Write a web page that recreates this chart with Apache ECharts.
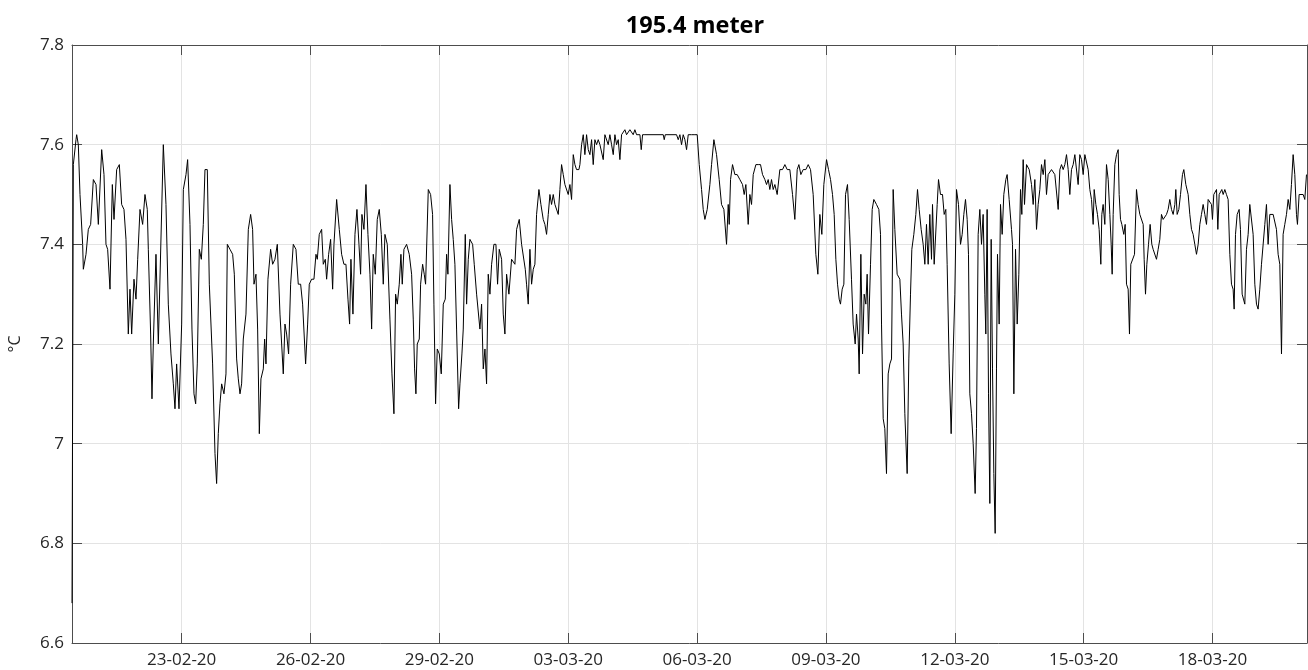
<!DOCTYPE html>
<html>
<head>
<meta charset="utf-8">
<script src="https://cdn.jsdelivr.net/npm/echarts@6/dist/echarts.min.js"></script>
<style>
html,body{margin:0;padding:0;background:#fff;}
#chart{width:1308px;height:670px;}
</style>
</head>
<body>
<div id="chart"></div>
<script>
// time in days since 2020-02-20 00:00
const days = [
0.447,0.478,0.540,0.556,0.594,0.633,0.695,0.711,0.773,0.827,0.881,0.944,1.006,1.060,1.138,1.192,1.238,1.277,1.332,1.386,1.425,1.487,1.549,1.603,1.657,1.704,1.758,1.797,1.836,1.890,1.937,1.976,2.030,2.092,2.146,2.200,2.224,2.278,2.309,2.340,2.402,2.457,2.573,2.635,2.689,2.751,2.806,2.845,2.883,2.938,3.000,3.039,3.101,3.139,3.194,3.240,3.287,3.326,3.364,3.411,3.458,3.504,3.543,3.597,3.644,3.721,3.776,3.814,3.853,3.892,3.931,3.985,4.032,4.063,4.125,4.187,4.226,4.280,4.319,4.358,4.396,4.435,4.497,4.552,4.606,4.652,4.684,4.730,4.769,4.808,4.846,4.901,4.932,4.963,5.009,5.071,5.118,5.172,5.227,5.289,5.328,5.366,5.405,5.444,5.490,5.537,5.599,5.661,5.715,5.770,5.816,5.886,5.933,5.971,6.026,6.080,6.127,6.158,6.204,6.259,6.297,6.344,6.375,6.422,6.468,6.515,6.546,6.608,6.670,6.724,6.778,6.825,6.872,6.910,6.941,6.988,7.035,7.081,7.128,7.166,7.197,7.244,7.291,7.337,7.384,7.423,7.461,7.508,7.554,7.601,7.648,7.694,7.733,7.787,7.849,
7.896,7.942,7.981,8.020,8.066,8.105,8.136,8.175,8.237,8.299,8.354,8.392,8.423,8.454,8.485,8.532,8.563,8.610,8.648,8.679,8.742,8.796,8.842,8.873,8.912,8.951,8.998,9.044,9.091,9.137,9.168,9.199,9.246,9.285,9.323,9.362,9.401,9.448,9.479,9.525,9.556,9.603,9.634,9.673,9.711,9.774,9.812,9.867,9.905,9.944,9.983,10.022,10.061,10.099,10.138,10.177,10.216,10.270,10.317,10.355,10.394,10.449,10.487,10.526,10.565,10.619,10.681,10.720,10.759,10.798,10.860,10.914,10.953,11.000,11.030,11.069,11.108,11.147,11.186,11.224,11.263,11.318,11.364,11.418,11.457,11.496,11.535,11.574,11.612,11.651,11.690,11.729,11.768,11.806,11.845,11.884,11.923,11.962,12.000,12.039,12.078,12.117,12.156,12.194,12.249,12.272,12.311,12.350,12.388,12.427,12.466,12.505,12.544,12.582,12.621,12.660,12.699,12.738,12.776,12.815,12.854,12.893,12.931,12.970,13.009,13.048,13.087,13.125,13.164,13.203,13.242,13.281,13.319,13.358,13.397,13.436,13.475,13.513,13.552,13.591,13.630,13.669,13.700,13.731,13.785,13.824,14.212,14.235,14.259,14.522,14.561,14.600,14.638,14.677,14.716,14.755,14.794,14.871,14.949,15.003,15.050,15.104,15.143,15.182,15.236,15.298,
15.337,15.391,15.453,15.515,15.569,15.624,15.686,15.725,15.748,15.779,15.825,15.880,15.934,15.996,16.058,16.097,16.136,16.190,16.229,16.268,16.307,16.369,16.423,16.477,16.524,16.578,16.617,16.656,16.694,16.733,16.772,16.811,16.865,16.927,16.989,17.044,17.098,17.160,17.222,17.276,17.331,17.370,17.416,17.470,17.532,17.587,17.641,17.703,17.765,17.812,17.858,17.905,17.951,18.014,18.060,18.107,18.153,18.192,18.231,18.270,18.308,18.339,18.378,18.417,18.456,18.502,18.541,18.595,18.634,18.681,18.712,18.751,18.774,18.813,18.852,18.890,18.929,18.960,18.991,19.038,19.077,19.115,19.177,19.232,19.271,19.294,19.333,19.371,19.410,19.449,19.488,19.527,19.565,19.604,19.658,19.721,19.759,19.798,19.837,19.891,19.930,19.969,20.000,20.046,20.093,20.132,20.171,20.217,20.264,20.303,20.341,20.380,20.419,20.458,20.481,20.520,20.559,20.590,20.621,20.667,20.714,20.753,20.791,20.822,20.869,20.915,20.962,21.001,21.040,21.086,21.133,21.172,21.210,21.249,21.288,21.319,21.350,21.389,21.428,21.474,21.505,21.544,21.583,21.622,21.660,21.699,21.722,21.753,21.785,21.816,21.847,21.878,21.909,21.940,21.971,21.994,22.033,22.064,22.103,22.141,22.188,22.219,22.266,22.320,
22.344,22.375,22.414,22.453,22.491,22.530,22.561,22.592,22.623,22.670,22.732,22.786,22.825,22.864,22.903,22.941,22.980,23.019,23.058,23.097,23.135,23.174,23.213,23.252,23.291,23.329,23.368,23.407,23.446,23.485,23.523,23.562,23.601,23.640,23.678,23.717,23.756,23.795,23.834,23.872,23.911,23.950,23.989,24.028,24.066,24.105,24.144,24.183,24.222,24.245,24.284,24.322,24.361,24.400,24.423,24.454,24.493,24.532,24.571,24.610,24.641,24.664,24.687,24.726,24.765,24.804,24.827,24.858,24.889,24.935,24.967,24.998,25.036,25.067,25.098,25.137,25.184,25.230,25.269,25.308,25.347,25.386,25.409,25.440,25.471,25.510,25.548,25.587,25.618,25.657,25.696,25.735,25.773,25.812,25.851,25.890,25.929,25.967,26.006,26.045,26.084,26.123,26.146,26.177,26.216,26.255,26.301,26.332,26.379,26.433,26.472,26.511,26.549,26.588,26.627,26.666,26.705,26.743,26.782,26.821,26.860,26.899,26.937,26.976,26.999,27.030,27.062,27.093,27.124,27.155,27.186,27.217,27.248,27.287,27.325,27.364,27.403,27.442,27.480,27.504,27.535,27.574,27.620,27.651,27.690,27.721,27.752,27.791,27.830,27.868,27.907,27.946,27.985,28.024,28.062,28.101,28.140,28.179,28.218,28.256,28.295,28.334,28.373,28.412,28.450,28.489,28.528,28.567,28.606,28.644,28.683,28.722,28.761,28.800,28.838,28.877,28.916,28.955,28.978,29.017,29.056,29.110,29.149,29.188
];
const temps = [
6.68,7.56,7.61,7.62,7.60,7.50,7.40,7.35,7.38,7.43,7.44,7.53,7.52,7.44,7.59,7.54,7.40,7.39,7.31,7.52,7.45,7.55,7.56,7.48,7.47,7.41,7.22,7.31,7.22,7.33,7.29,7.37,7.47,7.44,7.50,7.47,7.39,7.22,7.09,7.20,7.38,7.20,7.60,7.48,7.28,7.18,7.12,7.07,7.16,7.07,7.24,7.51,7.54,7.57,7.44,7.23,7.10,7.08,7.16,7.39,7.37,7.44,7.55,7.55,7.32,7.16,6.98,6.92,7.02,7.08,7.12,7.10,7.14,7.40,7.39,7.38,7.34,7.17,7.13,7.10,7.12,7.21,7.26,7.43,7.46,7.43,7.32,7.34,7.23,7.02,7.13,7.15,7.21,7.16,7.33,7.39,7.36,7.37,7.40,7.26,7.20,7.14,7.24,7.22,7.18,7.32,7.40,7.39,7.32,7.32,7.28,7.16,7.24,7.32,7.33,7.33,7.38,7.37,7.42,7.43,7.36,7.37,7.33,7.38,7.41,7.31,7.40,7.49,7.43,7.38,7.36,7.36,7.29,7.24,7.37,7.26,7.42,7.47,7.40,7.34,7.46,7.43,7.52,7.42,7.34,7.23,7.38,7.34,7.45,7.47,7.42,7.32,7.42,7.40,7.25,
7.14,7.06,7.30,7.28,7.32,7.38,7.32,7.39,7.40,7.38,7.34,7.25,7.15,7.10,7.20,7.21,7.32,7.36,7.34,7.32,7.51,7.50,7.46,7.28,7.08,7.19,7.18,7.14,7.28,7.29,7.38,7.34,7.52,7.45,7.41,7.36,7.23,7.07,7.12,7.18,7.23,7.42,7.28,7.37,7.41,7.40,7.36,7.30,7.30,7.23,7.28,7.15,7.19,7.12,7.34,7.30,7.36,7.40,7.40,7.32,7.39,7.37,7.26,7.22,7.34,7.30,7.37,7.37,7.36,7.43,7.45,7.40,7.40,7.35,7.32,7.28,7.39,7.32,7.35,7.36,7.46,7.51,7.48,7.45,7.44,7.42,7.46,7.50,7.48,7.50,7.48,7.48,7.46,7.51,7.56,7.54,7.52,7.52,7.50,7.52,7.49,7.58,7.56,7.55,7.55,7.56,7.60,7.62,7.58,7.62,7.59,7.58,7.61,7.56,7.61,7.60,7.61,7.60,7.60,7.57,7.62,7.62,7.60,7.62,7.60,7.58,7.62,7.60,7.61,7.57,7.62,7.62,7.63,7.62,7.62,7.63,7.63,7.62,7.63,7.62,7.62,7.62,7.59,7.62,7.62,7.62,7.62,7.61,7.62,7.62,7.61,7.62,7.60,7.62,7.61,7.59,7.62,7.62,7.62,7.62,7.56,7.51,7.47,7.45,7.47,7.52,
7.56,7.61,7.58,7.53,7.48,7.47,7.40,7.48,7.44,7.53,7.56,7.54,7.54,7.53,7.52,7.50,7.52,7.44,7.50,7.48,7.54,7.56,7.56,7.56,7.54,7.53,7.52,7.53,7.51,7.53,7.51,7.52,7.50,7.55,7.55,7.56,7.55,7.55,7.50,7.45,7.55,7.56,7.54,7.55,7.55,7.56,7.55,7.50,7.38,7.34,7.46,7.42,7.52,7.57,7.55,7.53,7.50,7.46,7.37,7.32,7.29,7.28,7.31,7.32,7.50,7.52,7.45,7.33,7.24,7.20,7.26,7.21,7.14,7.38,7.18,7.30,7.28,7.34,7.22,7.36,7.47,7.49,7.48,7.47,7.42,7.24,7.05,7.03,6.94,7.14,7.16,7.17,7.51,7.43,7.34,7.33,7.26,7.20,7.06,6.94,7.17,7.30,7.39,7.42,7.46,7.51,7.47,7.43,7.40,7.36,7.44,7.36,7.46,7.37,7.48,7.36,7.36,7.48,7.53,7.50,7.50,7.46,7.47,7.36,7.16,7.02,7.18,7.30,7.51,7.48,7.40,7.42,7.46,7.49,7.45,7.38,7.10,7.06,7.00,6.90,7.03,7.42,7.47,7.40,7.46,7.30,7.22,7.47,7.10,6.88,7.41,7.15,6.94,6.82,7.15,7.38,7.24,7.48,7.42,7.50,7.53,7.54,7.49,7.43,
7.40,7.10,7.39,7.24,7.34,7.51,7.46,7.57,7.48,7.56,7.55,7.52,7.48,7.53,7.43,7.48,7.51,7.56,7.54,7.57,7.50,7.54,7.54,7.55,7.55,7.54,7.54,7.47,7.55,7.56,7.55,7.56,7.58,7.55,7.50,7.55,7.56,7.58,7.58,7.52,7.58,7.57,7.54,7.58,7.58,7.55,7.51,7.49,7.44,7.51,7.48,7.46,7.43,7.36,7.46,7.48,7.44,7.56,7.53,7.46,7.40,7.34,7.46,7.56,7.58,7.59,7.50,7.45,7.44,7.42,7.44,7.32,7.31,7.22,7.36,7.36,7.38,7.51,7.48,7.46,7.46,7.44,7.37,7.30,7.36,7.40,7.44,7.40,7.39,7.39,7.37,7.39,7.41,7.46,7.45,7.45,7.46,7.47,7.49,7.47,7.46,7.48,7.51,7.46,7.47,7.50,7.54,7.55,7.52,7.50,7.46,7.43,7.42,7.40,7.38,7.40,7.44,7.46,7.48,7.46,7.44,7.49,7.49,7.48,7.45,7.50,7.50,7.51,7.43,7.50,7.50,7.51,7.50,7.51,7.50,7.49,7.38,7.32,7.31,7.27,7.42,7.46,7.47,7.43,7.30,7.30,7.28,7.39,7.42,7.48,7.48,7.42,7.32,7.28,7.27,7.31,7.36,7.36,7.44,7.48,7.40,7.46,7.46,7.46,7.46,7.43,7.38,7.36,7.18,7.42,7.44,7.46,7.49,7.47,7.52,7.58,7.54,7.46,7.44,7.50,7.50,7.50,7.49,7.54
];
const tickDays = [3, 6, 9, 12, 15, 18, 21, 24, 27];
const tickLabels = ['23-02-20','26-02-20','29-02-20','03-03-20','06-03-20','09-03-20','12-03-20','15-03-20','18-03-20'];
const titleText = '195.4 meter';
const yName = '°C';

const seriesData = days.map((d, i) => [d, temps[i]]);
const axisColor = '#4d4d4d';
const gridColor = '#e3e3e3';
const font = 'Open Sans';

function xLabel(v) {
  for (let i = 0; i < tickDays.length; i++) {
    if (Math.abs(tickDays[i] - v) < 1e-6) return tickLabels[i];
  }
  return '';
}

const chart = echarts.init(document.getElementById('chart'), null, {renderer: 'canvas'});
chart.setOption({
  animation: false,
  backgroundColor: '#ffffff',
  title: {
    text: titleText,
    left: 695,
    top: 14,
    padding: 0,
    textAlign: 'center',
    textStyle: {fontFamily: font, fontSize: 23.5, fontWeight: 'bold', color: '#000'}
  },
  grid: {left: 72, right: 1, top: 45, bottom: 27, containLabel: false, outerBoundsMode: 'none'},
  xAxis: [{
    type: 'value', min: 0.447, max: 29.2, position: 'bottom',
    axisLine: {show: true, onZero: false, lineStyle: {color: axisColor, width: 1}},
    axisTick: {show: true, inside: true, length: 10, customValues: tickDays, lineStyle: {color: axisColor}},
    axisLabel: {show: true, customValues: tickDays, formatter: xLabel, fontFamily: font, fontSize: 17, color: '#262626', margin: 9},
    splitLine: {show: true, lineStyle: {color: gridColor, width: 1}}
  }, {
    type: 'value', min: 0.447, max: 29.2, position: 'top',
    axisLine: {show: true, onZero: false, lineStyle: {color: axisColor, width: 1}},
    axisTick: {show: true, inside: true, length: 10, customValues: tickDays, lineStyle: {color: axisColor}},
    axisLabel: {show: false},
    splitLine: {show: false}
  }],
  yAxis: [{
    type: 'value', min: 6.6, max: 7.8, interval: 0.2, position: 'left',
    name: yName, nameLocation: 'middle', nameGap: 49, nameRotate: 90,
    nameMoveOverlap: false,
    nameTextStyle: {fontFamily: font, fontSize: 16, color: '#262626'},
    axisLine: {show: true, onZero: false, lineStyle: {color: axisColor, width: 1}},
    axisTick: {show: true, inside: true, length: 10, lineStyle: {color: axisColor}},
    axisLabel: {fontFamily: font, fontSize: 17, color: '#262626', margin: 8},
    splitLine: {show: true, lineStyle: {color: gridColor, width: 1}}
  }, {
    type: 'value', min: 6.6, max: 7.8, interval: 0.2, position: 'right',
    axisLine: {show: true, onZero: false, lineStyle: {color: axisColor, width: 1}},
    axisTick: {show: true, inside: true, length: 10, lineStyle: {color: axisColor}},
    axisLabel: {show: false},
    splitLine: {show: false}
  }],
  series: [{
    type: 'line',
    xAxisIndex: 0, yAxisIndex: 0,
    data: seriesData,
    showSymbol: false,
    symbol: 'none',
    lineStyle: {color: '#000000', width: 1},
    silent: true
  }]
});
</script>
</body>
</html>
